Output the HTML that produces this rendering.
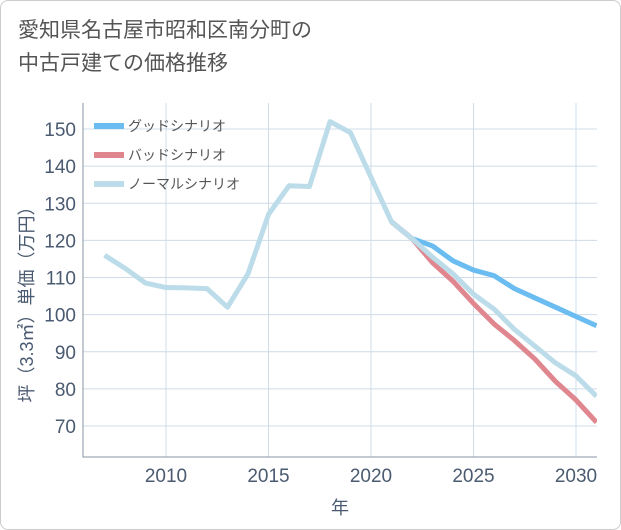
<!DOCTYPE html>
<html><head><meta charset="utf-8"><style>
body{margin:0;background:#fff;font-family:"Liberation Sans","Noto Sans CJK JP",sans-serif}
#wrap{position:relative;width:621px;height:530px}
#frame{position:absolute;left:0;top:0;width:619px;height:528px;border:1px solid #ccc;border-radius:8px}
#title{position:absolute;left:18px;top:14px;font-size:21px;color:#555;line-height:33px}
</style></head><body>
<div id="wrap">
<div id="frame"></div>
<div id="title">愛知県名古屋市昭和区南分町の<br>中古戸建ての価格推移</div>
<svg id="svg" width="621" height="530" style="position:absolute;left:0;top:0"></svg>
</div>
<script>
const years=[2007,2008,2009,2010,2011,2012,2013,2014,2015,2016,2017,2018,2019,2020,2021,2022,2023,2024,2025,2026,2027,2028,2029,2030,2031];
const normalVals=[116,112.5,108.5,107.3,107.2,107,102,111,127,134.7,134.5,152,149,137,125,120.5,115.5,111,105.5,101.5,96,91.5,87,83.5,78];
const futureYears=[2021,2022,2023,2024,2025,2026,2027,2028,2029,2030,2031];
const goodVals=[125,120.5,118.5,114.5,112,110.5,107,104.5,102,99.5,97];
const badVals=[125,120.5,114,109,103,97.5,93,88,82,77,71];
const yTicks=[70,80,90,100,110,120,130,140,150];
const xTicks=[2010,2015,2020,2025,2030];
const L=83,R=597,T=103,B=457;
const xs=y=>166+(y-2010)*20.5;
const ys=v=>129+(150-v)*(426-129)/80;
const svg=document.getElementById('svg');const NS='http://www.w3.org/2000/svg';
function mk(t,a,p){const e=document.createElementNS(NS,t);for(const k in a)e.setAttribute(k,a[k]);(p||svg).appendChild(e);return e;}
yTicks.forEach(v=>{const l=mk('line',{x1:L,x2:R,y1:ys(v),y2:ys(v),stroke:'#cfdce8','stroke-width':1});

const t=mk('text',{x:L-7,y:ys(v)+7,'text-anchor':'end','font-size':19,fill:'#4a5a70'});t.textContent=v;
});
xTicks.forEach(y=>{const l=mk('line',{x1:xs(y),x2:xs(y),y1:T,y2:B,stroke:'#cfdce8','stroke-width':1});

const t=mk('text',{x:xs(y),y:482,'text-anchor':'middle','font-size':19,fill:'#4a5a70'});t.textContent=y;
});
const ax=mk('path',{d:`M${L} ${T}V${B}H${R}`,fill:'none',stroke:'#8a96a3','stroke-width':1});

const clip=mk('clipPath',{id:'c'});mk('rect',{x:L,y:T,width:R-L,height:B-T},clip);
function line(xv,yv,col,name){const p=mk('polyline',{points:xv.map((x,i)=>xs(x)+','+ys(yv[i])).join(' '),fill:'none',stroke:col,'stroke-width':5,'stroke-linejoin':'round','clip-path':'url(#c)'});
}
line(futureYears,goodVals,'#6bbcf0','good-scenario-line');
line(futureYears,badVals,'#e0868f','bad-scenario-line');
line(years,normalVals,'#bcdcea','normal-scenario-line');
[['グッドシナリオ','#6bbcf0'],['バッドシナリオ','#e0868f'],['ノーマルシナリオ','#bcdcea']].forEach((d,i)=>{const y=126+i*29;
const r=mk('rect',{x:94,y:y-3,width:30,height:6,fill:d[1]});
const t=mk('text',{x:128,y:y+5,'font-size':14,fill:'#555'});t.textContent=d[0];});
const yt=mk('text',{x:0,y:0,'font-size':18,fill:'#4a5a70','text-anchor':'middle',transform:'translate(33,300) rotate(-90)'});yt.textContent='坪（3.3㎡）単価（万円）';

const xt=mk('text',{x:340,y:514,'font-size':18,fill:'#4a5a70','text-anchor':'middle'});xt.textContent='年';

</script>
</body></html>
